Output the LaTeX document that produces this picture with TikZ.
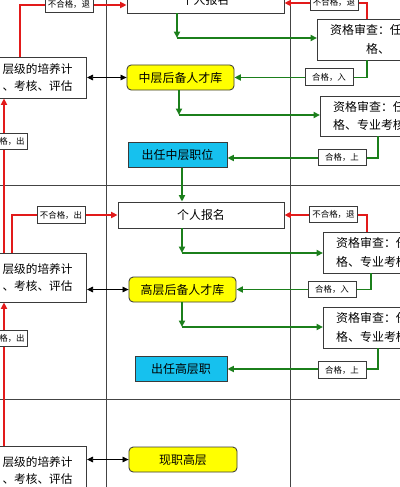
\documentclass[tikz,border=0pt]{standalone}
\usepackage{fontspec}
\setmainfont{Noto Sans CJK SC}
\usetikzlibrary{arrows.meta}
\definecolor{laneline}{HTML}{444444}
\definecolor{boxline}{HTML}{3A3A3A}
\definecolor{poolfill}{HTML}{FFFF00}
\definecolor{postfill}{HTML}{16C1EE}
\definecolor{passgreen}{HTML}{1B7F1B}
\definecolor{failred}{HTML}{E21A1A}
\tikzset{
  box/.style={rectangle, draw=boxline, fill=white, line width=0.6pt, inner sep=0pt, align=center, font=\fontsize{8.5}{12}\selectfont},
  planbox/.style={box, anchor=east, text width=2.8cm, inner xsep=0.35cm, align=right, font=\fontsize{8.3}{12.5}\selectfont},
  regbox/.style={box, minimum height=0.65cm},
  checkbox/.style={box, anchor=west, text width=2.6cm, inner xsep=0.32cm, align=left, font=\fontsize{8.5}{13}\selectfont},
  poolbox/.style={box, rounded corners=3pt, fill=poolfill, minimum width=2.675cm, minimum height=0.625cm},
  postbox/.style={box, fill=postfill, minimum height=0.62cm},
  tagbox/.style={box, minimum width=1.2cm, minimum height=0.42cm, font=\fontsize{6}{7}\selectfont},
  passflow/.style={-{Triangle[length=1.6mm, width=1.5mm]}, line width=1.2pt, draw=passgreen},
  failflow/.style={-{Triangle[length=1.6mm, width=1.5mm]}, line width=1.2pt, draw=failred},
  linkflow/.style={{Triangle[length=1.5mm, width=1.4mm]}-{Triangle[length=1.5mm, width=1.4mm]}, line width=0.5pt, draw=black},
  lane/.style={draw=laneline, line width=0.6pt}
}

\begin{document}
\begin{tikzpicture}[x=0.025cm, y=-0.025cm]
\useasboundingbox (0,0) rectangle (400,487);
\clip (0,0) rectangle (400,487);

% Lanes.
\draw[lane] (106,0) -- (106,487);
\draw[lane] (290,0) -- (290,487);
\draw[lane] (0,185) -- (400,185);
\draw[lane] (0,399) -- (400,399);

% Training plans per level.
\node[planbox, minimum height=1.025cm] (plan1) at (87,77.5) {层级的培养计\\、考核、评估};
\node[planbox, minimum height=1.225cm] (plan2) at (87,277.5) {层级的培养计\\、考核、评估};
\node[planbox, minimum height=1.225cm] (plan3) at (87,470.5) {层级的培养计\\、考核、评估};

% Middle level.
\node[regbox, minimum width=3.925cm] (reg1) at (205.5,0) {个人报名};
\node[checkbox, minimum height=1.025cm] (check1) at (317,39.5) {资格审查：任\\\hspace*{0.9cm}格、};
\node[poolbox] (pool1) at (180.5,77.5) {中层后备人才库};
\node[checkbox, minimum height=1cm] (check2) at (320,116) {资格审查：任\\格、专业考核};
\node[postbox, minimum width=2.475cm] (post1) at (177.5,155) {出任中层职位};

% Senior level.
\node[regbox, minimum width=4.15cm] (reg2) at (201,215) {个人报名};
\node[checkbox, minimum height=1.025cm] (check3) at (323,252.5) {资格审查：任\\格、专业考核};
\node[poolbox] (pool2) at (182.5,289.5) {高层后备人才库};
\node[checkbox, minimum height=1.025cm] (check4) at (323,327.5) {资格审查：任\\格、专业考核};
\node[postbox, minimum width=2.3cm] (post2) at (181,369) {出任高层职};

\node[poolbox, minimum width=2.7cm] (pool3) at (183,459.5) {现职高层};

\coordinate (turn1) at (177,38);
\coordinate (turn2) at (179,115);
\coordinate (turn3) at (182,253);
\coordinate (turn4) at (182,327);

% Passing flows.
\draw[passflow] (reg1.south -| turn1) -- (turn1);
\draw[passflow] (turn1) -- (check1.west |- turn1);
\draw[passflow] (check1.south -| 367,0) |- (pool1.east);
\draw[passflow] (pool1.south -| turn2) -- (turn2);
\draw[passflow] (turn2) -- (check2.west |- turn2);
\draw[passflow] (check2.south -| 378,0) |- (post1.east |- 0,158);
\draw[passflow] (post1.south -| 182,0) -- (reg2.north -| 182,0);
\draw[passflow] (reg2.south -| turn3) -- (turn3);
\draw[passflow] (turn3) -- (check3.west |- turn3);
\draw[passflow] (check3.south -| 371,0) |- (pool2.east);
\draw[passflow] (pool2.south -| turn4) -- (turn4);
\draw[passflow] (turn4) -- (check4.west |- turn4);
\draw[passflow] (check4.south -| 378,0) |- (post2.east);

% Failing flows.
\draw[failflow] (plan1.north -| 20,0) |- (reg1.west |- 0,5);
\draw[failflow] (check1.north -| 367,0) |- (reg1.east |- 0,3);
\draw[failflow] (plan2.north -| 4,0) -- (plan1.south -| 4,0);
\draw[failflow] (plan2.north -| 12,0) |- (reg2.west);
\draw[failflow] (check3.north -| 367,0) |- (reg2.east);
\draw[failflow] (plan3.north -| 4,0) -- (plan2.south -| 4,0);

% Plan to pool links.
\draw[linkflow] (plan1.east) -- (pool1.west);
\draw[linkflow] (plan2.east |- pool2.west) -- (pool2.west);
\draw[linkflow] (plan3.east |- pool3.west) -- (pool3.west);

% Flow labels.
\node[tagbox] (back1) at (69,4.5) {不合格，退};
\node[tagbox] (back2) at (334,2) {不合格，退};
\node[tagbox] (enter1) at (329,77) {合格，入};
\node[tagbox] (up1) at (342,157.5) {合格，上};
\node[tagbox, anchor=east] (out1) at (28,141.5) {不合格，出};
\node[tagbox] (out2) at (61,215) {不合格，出};
\node[tagbox] (back3) at (333.5,214.5) {不合格，退};
\node[tagbox] (enter2) at (332,289.5) {合格，入};
\node[tagbox] (up2) at (342,370) {合格，上};
\node[tagbox, anchor=east] (out3) at (28,338.5) {不合格，出};

\end{tikzpicture}
\end{document}
